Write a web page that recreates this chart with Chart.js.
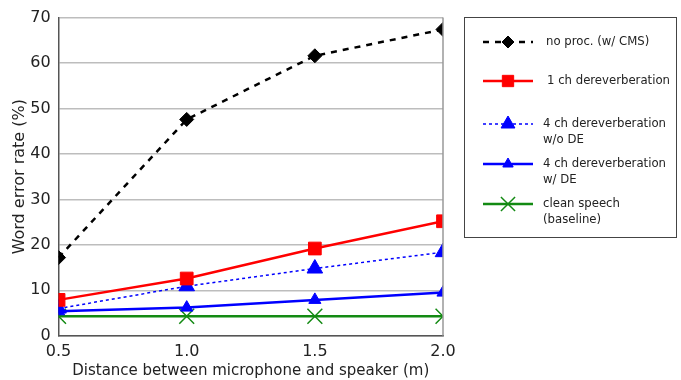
<!DOCTYPE html>
<html>
<head>
<meta charset="utf-8">
<script src="https://cdn.jsdelivr.net/npm/chart.js@4/dist/chart.umd.min.js"></script>
<style>
  body { margin: 0; background: #fff; }
  #wrap { width: 681px; height: 380px; }
</style>
</head>
<body>
<div id="wrap"><canvas id="myChart" width="681" height="380"></canvas></div>
<script>
// distances (m) and word error rates (%)
const distances = [0.5, 1.0, 1.5, 2.0];
const noProc = [17.2, 47.6, 61.6, 67.4];
const oneCh = [7.9, 12.6, 19.2, 25.2];
const fourChNoDE = [6.0, 10.9, 14.8, 18.4];
const fourChDE = [5.4, 6.2, 7.9, 9.5];
const clean = [4.3, 4.3, 4.3, 4.3];

const legendLabels = [
    ['no proc. (w/ CMS)'],
    ['1 ch dereverberation'],
    ['4 ch dereverberation', 'w/o DE'],
    ['4 ch dereverberation', 'w/ DE'],
    ['clean speech', '(baseline)']
];

function pts(vals) {
    return vals.map((v, i) => ({ x: distances[i], y: v }));
}

// draw the boxed legend on the right side
const boxLegend = {
    id: 'boxLegend',
    afterDraw(chart) {
        const ctx = chart.ctx;
        const bx = 464, by = 17, bw = 212, bh = 220;
        const rows = [42, 81, 124, 164, 204];
        const textX = [546, 547, 543, 543, 543];
        ctx.save();
        ctx.fillStyle = '#fff';
        ctx.fillRect(bx, by, bw, bh);
        ctx.strokeStyle = '#444';
        ctx.lineWidth = 1;
        ctx.strokeRect(bx + 0.5, by + 0.5, bw, bh);
        chart.data.datasets.forEach((ds, i) => {
            const y = rows[i];
            ctx.save();
            ctx.strokeStyle = ds.borderColor;
            ctx.lineWidth = ds.borderWidth;
            ctx.setLineDash(ds.borderDash || []);
            ctx.beginPath();
            ctx.moveTo(483, y);
            ctx.lineTo(533, y);
            ctx.stroke();
            ctx.setLineDash([]);
            ctx.fillStyle = ds.backgroundColor;
            ctx.strokeStyle = ds.borderColor;
            ctx.lineWidth = ds.pointBorderWidth || 1;
            Chart.helpers.drawPoint(ctx, {
                pointStyle: ds.pointStyle,
                radius: ds.legendRadius,
                borderWidth: ds.pointBorderWidth || 1,
                rotation: 0
            }, 508, y);
            ctx.restore();
            ctx.fillStyle = '#222';
            ctx.font = '13px "DejaVu Sans Condensed", "DejaVu Sans"';
            ctx.textBaseline = 'middle';
            legendLabels[i].forEach((t, k) => {
                ctx.fillText(t, textX[i], y + k * 16);
            });
        });
        ctx.restore();
    }
};

const ctx = document.getElementById('myChart').getContext('2d');
const chart = new Chart(ctx, {
    type: 'line',
    data: {
        datasets: [
            {
                label: 'no proc. (w/ CMS)',
                data: pts(noProc),
                borderColor: '#000',
                backgroundColor: '#000',
                borderWidth: 2.5,
                borderDash: [6, 6],
                pointStyle: 'rectRot',
                pointRadius: 7,
                legendRadius: 6,
                pointBorderWidth: 1
            },
            {
                label: '1 ch dereverberation',
                data: pts(oneCh),
                borderColor: '#ff0000',
                backgroundColor: '#ff0000',
                borderWidth: 2.5,
                pointStyle: 'rect',
                pointRadius: 9,
                legendRadius: 8,
                pointBorderWidth: 1
            },
            {
                label: '4 ch dereverberation w/o DE',
                data: pts(fourChNoDE),
                borderColor: '#0000ff',
                backgroundColor: '#0000ff',
                borderWidth: 1.5,
                borderDash: [3, 3],
                pointStyle: 'triangle',
                pointRadius: 9,
                legendRadius: 8,
                pointBorderWidth: 1
            },
            {
                label: '4 ch dereverberation w/ DE',
                data: pts(fourChDE),
                borderColor: '#0000ff',
                backgroundColor: '#0000ff',
                borderWidth: 2.5,
                pointStyle: 'triangle',
                pointRadius: 7,
                legendRadius: 6,
                pointBorderWidth: 1
            },
            {
                label: 'clean speech (baseline)',
                data: pts(clean),
                borderColor: '#138a13',
                backgroundColor: '#138a13',
                borderWidth: 2.5,
                pointStyle: 'crossRot',
                pointRadius: 10.5,
                legendRadius: 10,
                pointBorderWidth: 1.5
            }
        ]
    },
    options: {
        responsive: false,
        animation: false,
        layout: { padding: { left: 10, right: 238, top: 8, bottom: 0 } },
        plugins: {
            legend: { display: false },
            tooltip: { enabled: false }
        },
        scales: {
            x: {
                type: 'linear',
                min: 0.5,
                max: 2.0,
                grid: { display: false, drawTicks: false },
                border: { color: '#555', width: 1.5 },
                ticks: {
                    stepSize: 0.5,
                    color: '#222',
                    padding: 6,
                    font: { family: 'DejaVu Sans', size: 16 },
                    callback: (v) => Number(v).toFixed(1)
                },
                title: {
                    display: true,
                    text: 'Distance between microphone and speaker (m)',
                    color: '#222',
                    padding: { top: -5, bottom: 0 },
                    font: { family: 'DejaVu Sans', size: 15 }
                }
            },
            y: {
                min: 0,
                max: 70,
                grid: { color: '#bdbdbd', lineWidth: 1.5, drawTicks: false },
                border: { color: '#555', width: 1.5 },
                ticks: {
                    stepSize: 10,
                    color: '#222',
                    padding: 8,
                    font: { family: 'DejaVu Sans', size: 16 }
                },
                title: {
                    display: true,
                    text: 'Word error rate (%)',
                    color: '#222',
                    padding: { top: 0, bottom: -7 },
                    font: { family: 'DejaVu Sans', size: 16 }
                }
            }
        }
    },
    plugins: [{
        id: 'frame',
        afterDatasetsDraw(chart) {
            const a = chart.chartArea;
            const c = chart.ctx;
            c.save();
            c.strokeStyle = '#999';
            c.lineWidth = 1.5;
            c.beginPath();
            c.moveTo(a.right, a.top);
            c.lineTo(a.right, a.bottom);
            c.stroke();
            c.restore();
        }
    }, boxLegend]
});
</script>
</body>
</html>
